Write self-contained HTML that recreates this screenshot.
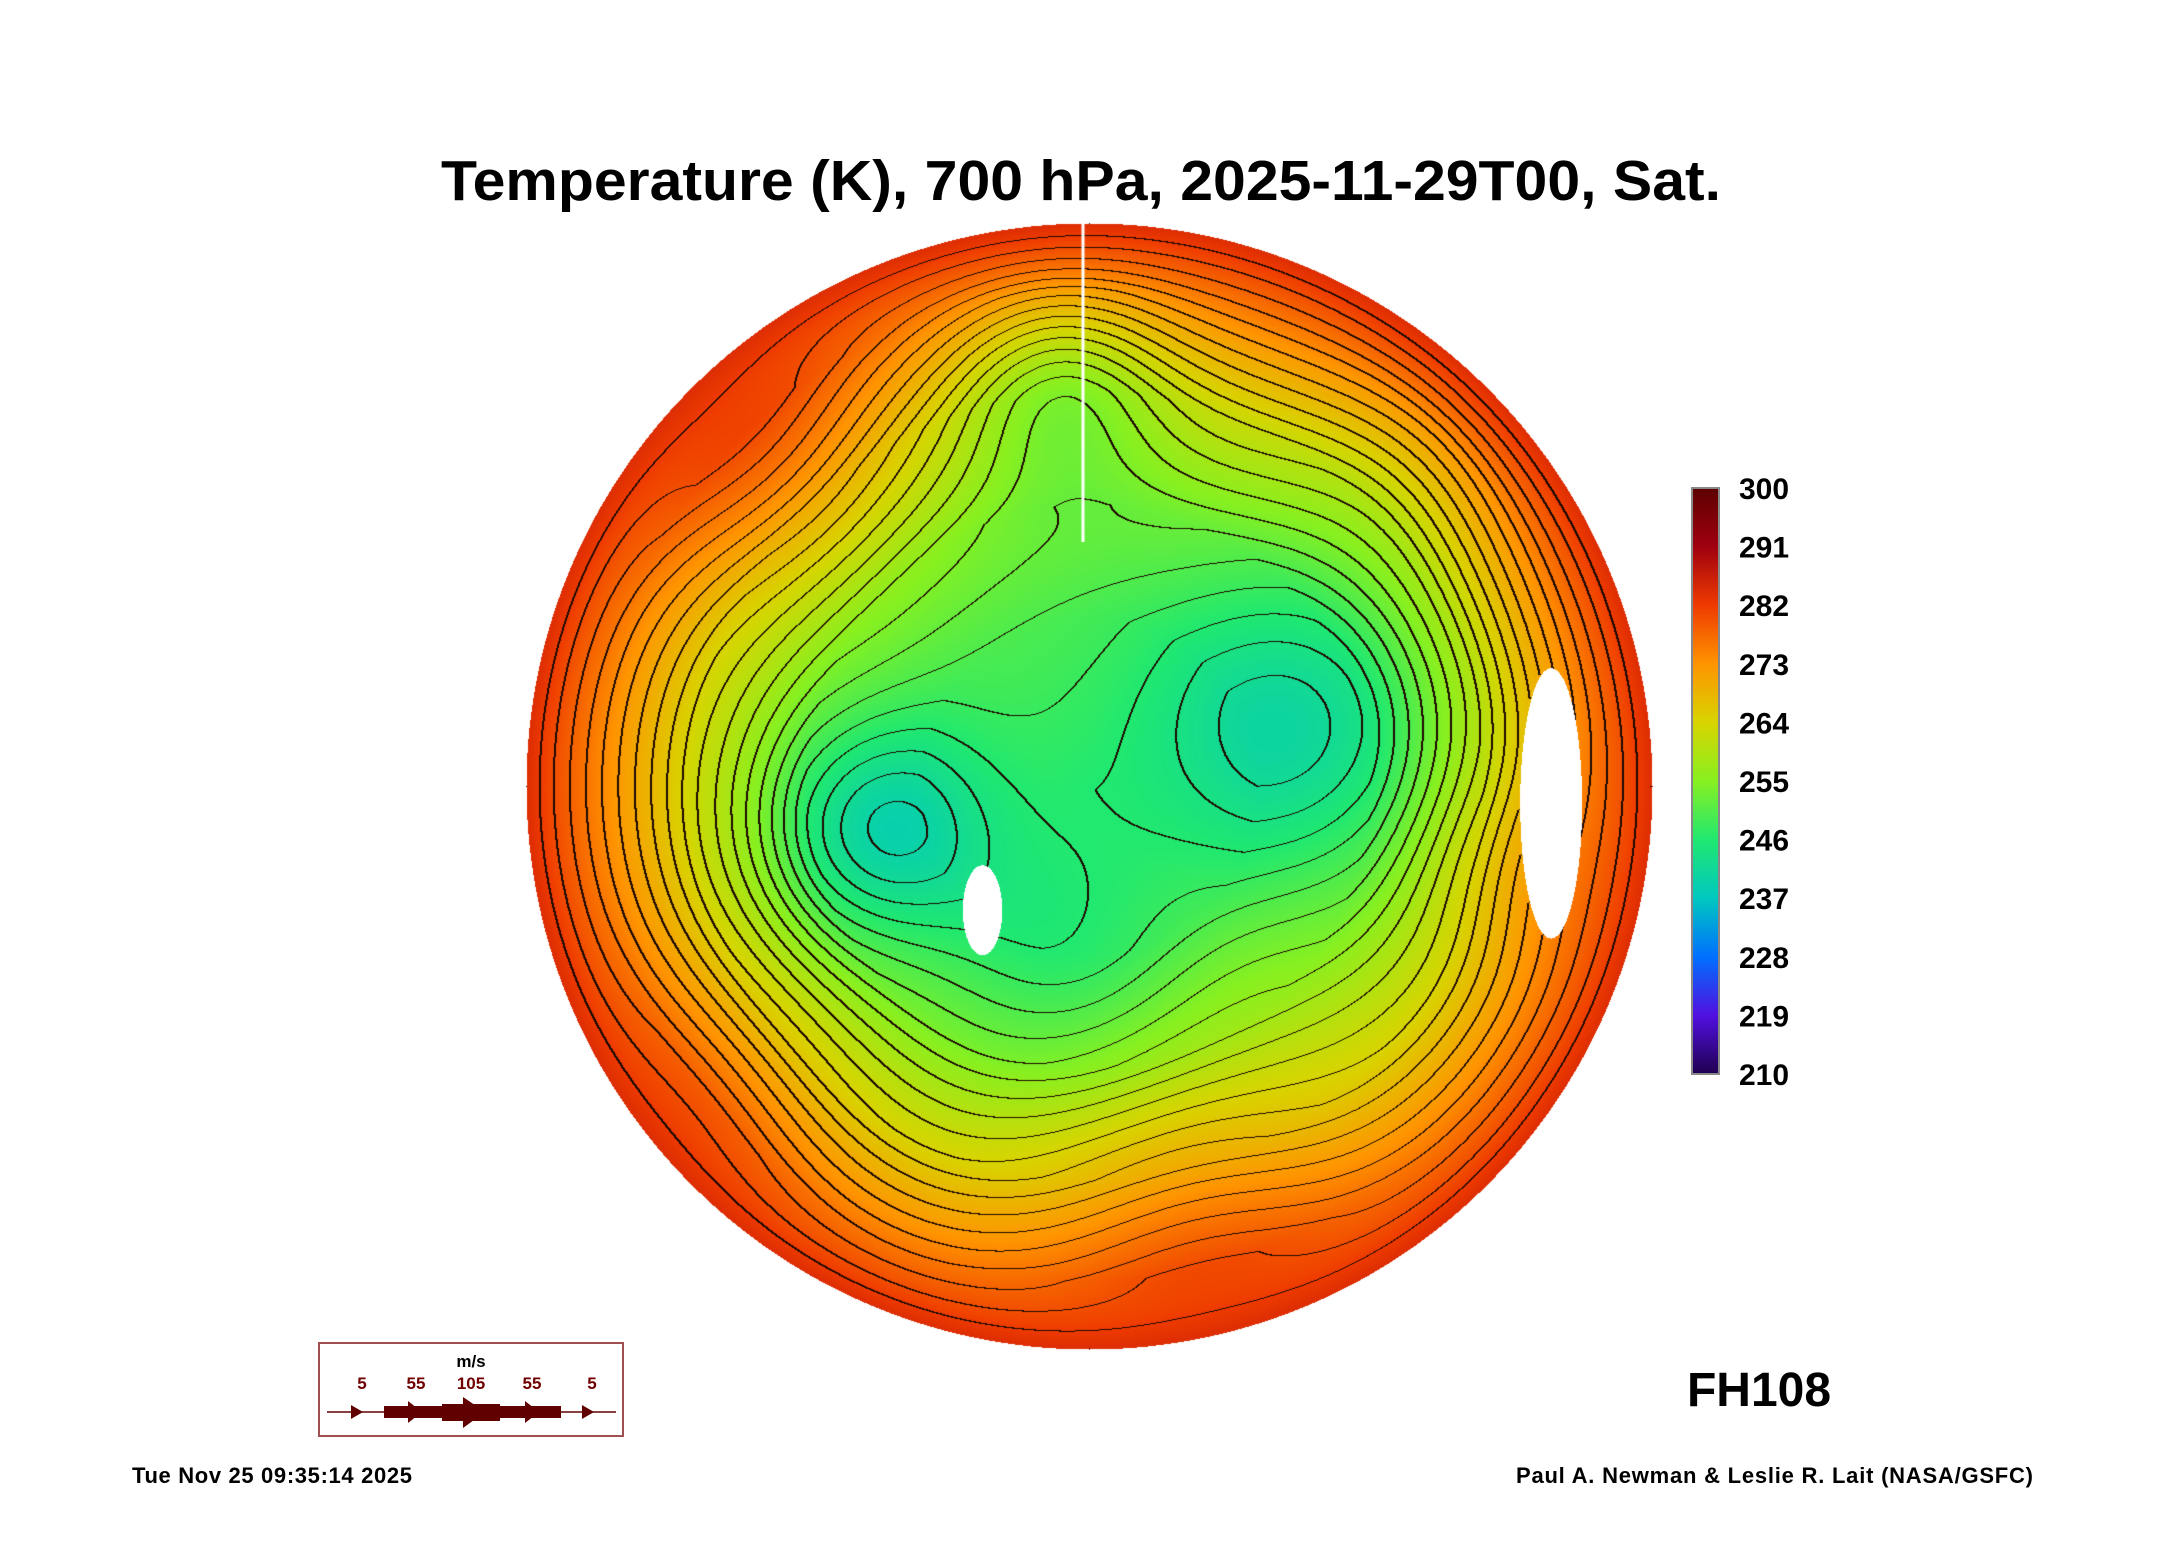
<!DOCTYPE html>
<html><head><meta charset="utf-8"><style>
html,body{margin:0;padding:0;background:#fff;}
#root{position:relative;width:2165px;height:1561px;overflow:hidden;background:#fff;font-family:"Liberation Sans",sans-serif;}
canvas{position:absolute;}
</style></head><body>
<div id="root">
<svg width="2165" height="1561" style="position:absolute;left:0;top:0">
  <text x="1081" y="200" text-anchor="middle" font-family="Liberation Sans" font-weight="bold" font-size="57" fill="#000" textLength="1280" lengthAdjust="spacingAndGlyphs">Temperature (K), 700 hPa, 2025-11-29T00, Sat.</text>
  <g id="cbar"></g>
  <text x="1759" y="1406" text-anchor="middle" font-weight="bold" font-size="48" fill="#000">FH108</text>
  <text x="132" y="1483" font-weight="bold" font-size="22" fill="#000" textLength="280">Tue Nov 25 09:35:14 2025</text>
  <text x="1516" y="1483" font-weight="bold" font-size="22" fill="#000" textLength="517">Paul A. Newman &amp; Leslie R. Lait (NASA/GSFC)</text>
  <g>
    <rect x="319" y="1343" width="304" height="93" fill="none" stroke="#a05050" stroke-width="2"/>
    <text x="471" y="1367" text-anchor="middle" font-weight="bold" font-size="17" fill="#000">m/s</text>
    <g font-weight="bold" font-size="17" fill="#700000" text-anchor="middle">
      <text x="362" y="1389">5</text>
      <text x="416" y="1389">55</text>
      <text x="471" y="1389">105</text>
      <text x="532" y="1389">55</text>
      <text x="592" y="1389">5</text>
    </g>
    <g fill="#600000" stroke="#600000">
      <line x1="327" y1="1412" x2="616" y2="1412" stroke-width="1.5"/>
      <rect x="384" y="1406" width="177" height="12" stroke="none"/>
      <rect x="442" y="1404" width="58" height="17" stroke="none"/>
      <polygon points="351,1405 363,1412 351,1419" stroke="none"/>
      <polygon points="408,1401 422,1412 408,1423" stroke="none"/>
      <polygon points="463,1397 485,1412 463,1428" stroke="none"/>
      <polygon points="525,1401 539,1412 525,1423" stroke="none"/>
      <polygon points="582,1405 594,1412 582,1419" stroke="none"/>
    </g>
  </g>
</svg>
<canvas id="map" width="1128" height="1128" style="left:525px;top:222px"></canvas>
</div>
<script>
// colour scale data
const cbTicks = [300,291,282,273,264,255,246,237,228,219,210];
const cbColors = ["#5c0000","#a00010","#ee3a00","#ff9400","#d8d400","#88f020","#20e870","#00c8c0","#0070ff","#5010e0","#200050"];
// radial base profile (normalized radius -> K)
const baseRadii = [0, 0.3, 0.5, 0.7, 0.85, 0.95, 1.0];
const baseTemps = [248, 250, 254, 263, 273, 280, 284];
// anomaly blobs: centre u, centre v, amplitude K, width
const blobU = [-0.38, 0.40, 0.17, -0.55, -0.05, -0.65, 0.73, -0.05, 0.30, 0.55];
const blobV = [0.08, -0.12, 0.72, -0.56, -0.72, 0.53, 0.13, 0.30, 0.35, -0.55];
const blobAmp = [-12, -11, 7, 7, -9, 4, 3, -4, 2, -3];
const blobSig = [0.14, 0.20, 0.20, 0.18, 0.13, 0.18, 0.12, 0.15, 0.15, 0.15];
// missing-data patches: u, v, rx, ry
const maskU = [0.82, -0.19];
const maskV = [0.03, 0.22];
const maskRx = [0.055, 0.035];
const maskRy = [0.24, 0.08];

const svgNS = "http://www.w3.org/2000/svg";
const cb = document.getElementById('cbar');
const cbX = 1692, cbW = 27, cbTop = 488, cbBot = 1074;
const cbY = v => cbBot - (v - 210) / 90 * (cbBot - cbTop);
const defs = document.createElementNS(svgNS, 'defs');
const grad = document.createElementNS(svgNS, 'linearGradient');
grad.setAttribute('id', 'cbg'); grad.setAttribute('x1', '0'); grad.setAttribute('y1', '0'); grad.setAttribute('x2', '0'); grad.setAttribute('y2', '1');
cbTicks.forEach((t, i) => {
  const s = document.createElementNS(svgNS, 'stop');
  s.setAttribute('offset', ((300 - t) / 90).toFixed(3));
  s.setAttribute('stop-color', cbColors[i]);
  grad.appendChild(s);
});
defs.appendChild(grad); cb.appendChild(defs);
const rect = document.createElementNS(svgNS, 'rect');
rect.setAttribute('x', cbX); rect.setAttribute('y', cbTop); rect.setAttribute('width', cbW); rect.setAttribute('height', cbBot - cbTop);
rect.setAttribute('fill', 'url(#cbg)'); rect.setAttribute('stroke', '#888'); rect.setAttribute('stroke-width', '2');


cb.appendChild(rect);
cbTicks.forEach(t => {
  const tx = document.createElementNS(svgNS, 'text');
  tx.setAttribute('x', 1739); tx.setAttribute('y', cbY(t) + 11);
  tx.setAttribute('font-weight', 'bold'); tx.setAttribute('font-size', '30'); tx.setAttribute('fill', '#000');
  tx.textContent = t;
  
  
  cb.appendChild(tx);
});

function hex(c){return [parseInt(c.substr(1,2),16),parseInt(c.substr(3,2),16),parseInt(c.substr(5,2),16)];}
const cbRGB = cbColors.map(hex);
function colorOf(T){
  let p = (300 - T) / 9; if (p < 0) p = 0; if (p > 10) p = 10;
  const i = Math.min(9, Math.floor(p)), f = p - i;
  const a = cbRGB[i], b = cbRGB[i+1];
  return [a[0]+(b[0]-a[0])*f, a[1]+(b[1]-a[1])*f, a[2]+(b[2]-a[2])*f];
}
function baseT(r){
  for (let i = 1; i < baseRadii.length; i++) if (r <= baseRadii[i]) {
    const f = (r - baseRadii[i-1]) / (baseRadii[i] - baseRadii[i-1]);
    return baseTemps[i-1] + f * (baseTemps[i] - baseTemps[i-1]);
  }
  return baseTemps[baseTemps.length-1];
}
const cv = document.getElementById('map'), ctx = cv.getContext('2d');
const N = cv.width, R = 563, C = N / 2;
const T = new Float32Array(N*N), inside = new Uint8Array(N*N);
for (let y = 0; y < N; y++) for (let x = 0; x < N; x++) {
  const u = (x - C) / R, v = (y - C) / R, r = Math.hypot(u, v);
  const k = y*N + x;
  if (r > 1) continue;
  let masked = false;
  for (let m = 0; m < maskU.length; m++) {
    const du = (u - maskU[m]) / maskRx[m], dv = (v - maskV[m]) / maskRy[m];
    if (du*du + dv*dv < 1) masked = true;
  }
  if (masked) continue;
  inside[k] = 1;
  let t = baseT(r);
  const edgeW = Math.min(1, (1 - r) / 0.12);
  for (let b = 0; b < blobU.length; b++) {
    const du = u - blobU[b], dv = v - blobV[b];
    t += edgeW * blobAmp[b] * Math.exp(-(du*du + dv*dv) / (2*blobSig[b]*blobSig[b]));
  }
  T[k] = t;
}
const img = ctx.createImageData(N, N), d = img.data;
for (let y = 0; y < N; y++) for (let x = 0; x < N; x++) {
  const k = y*N + x, o = k*4;
  if (!inside[k]) { d[o]=255; d[o+1]=255; d[o+2]=255; d[o+3]=0; continue; }
  let c = colorOf(T[k]);
  const lv = Math.floor(T[k] / 2);
  let edge = false;
  if (x+1 < N && inside[k+1] && Math.floor(T[k+1]/2) !== lv) edge = true;
  if (y+1 < N && inside[k+N] && Math.floor(T[k+N]/2) !== lv) edge = true;
  if (x+2 < N && inside[k+2] && Math.floor(T[k+2]/2) !== lv) edge = true;
  if (edge) c = [30, 10, 0];
  d[o]=c[0]; d[o+1]=c[1]; d[o+2]=c[2]; d[o+3]=255;
}
ctx.putImageData(img, 0, 0);
// meridian line
ctx.strokeStyle = '#fff'; ctx.lineWidth = 3;
ctx.beginPath(); ctx.moveTo(558, 0); ctx.lineTo(558, 320); ctx.stroke();
</script>
</body></html>
